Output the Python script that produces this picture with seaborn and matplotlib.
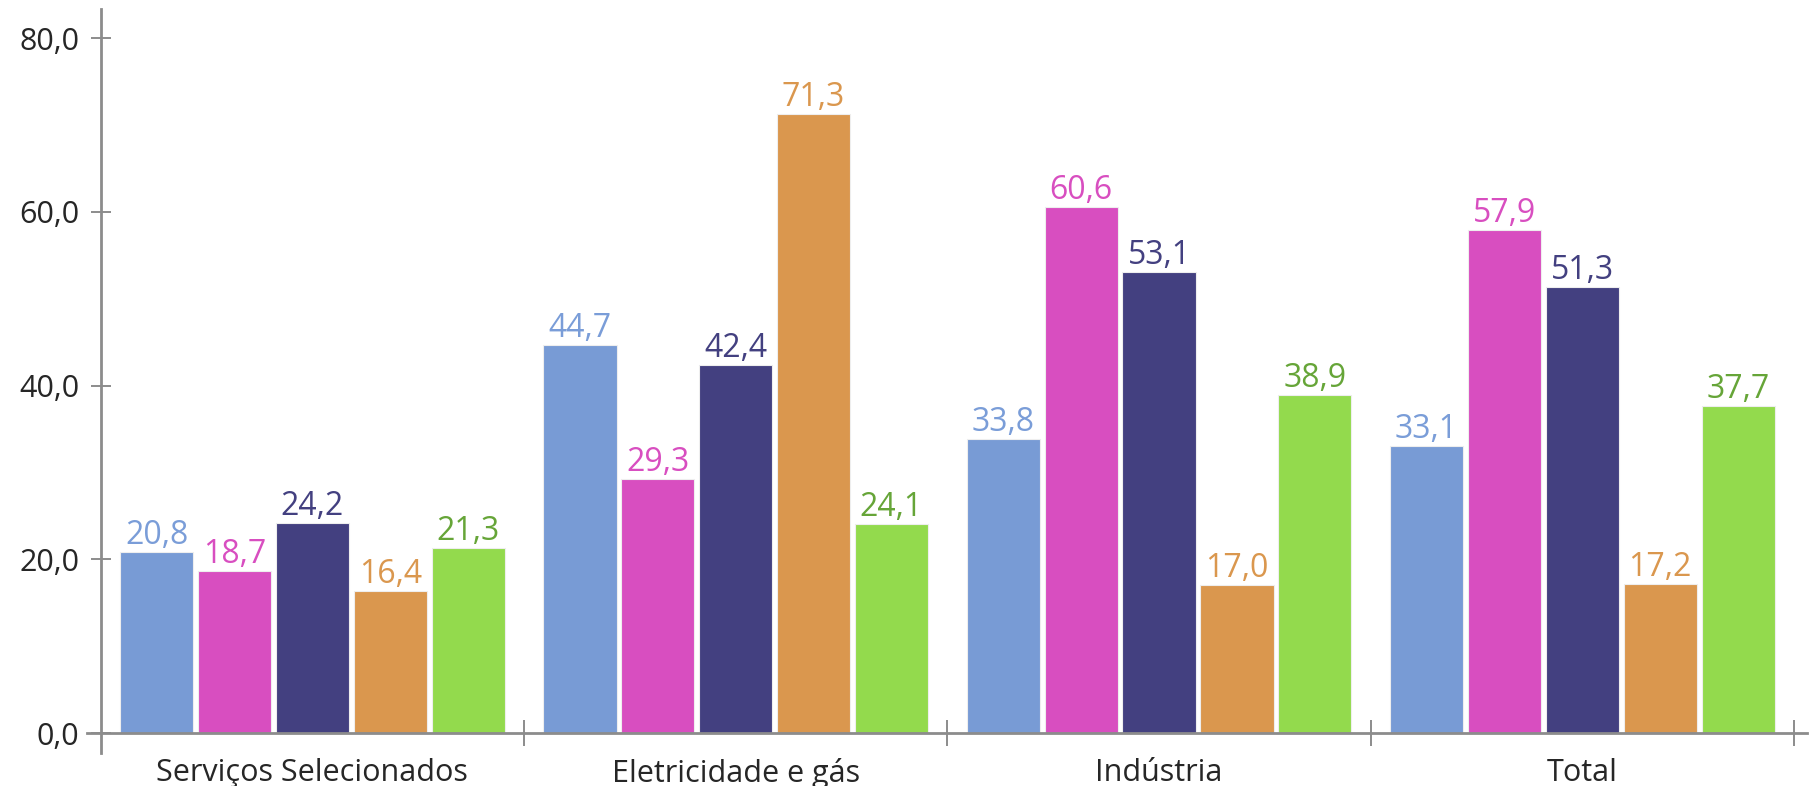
import numpy as np
import pandas as pd
import matplotlib
matplotlib.use("Agg")
import matplotlib.pyplot as plt
import seaborn as sns

# categories and series
categorias = ["Serviços Selecionados", "Eletricidade e gás", "Indústria", "Total"]
series = ["S1", "S2", "S3", "S4", "S5"]

s1 = [20.8, 44.7, 33.8, 33.1]
s2 = [18.7, 29.3, 60.6, 57.9]
s3 = [24.2, 42.4, 53.1, 51.3]
s4 = [16.4, 71.3, 17.0, 17.2]
s5 = [21.3, 24.1, 38.9, 37.7]

cores_barras = ["#789BD5", "#D84EC0", "#434080", "#DA974E", "#93DA4D"]
cores_rotulos = ["#7A9DD8", "#D84EC0", "#434080", "#DA974E", "#66A538"]

yticks = [0, 20, 40, 60, 80]

valores = [s1, s2, s3, s4, s5]
df = pd.DataFrame({
    "categoria": np.tile(categorias, len(series)),
    "serie": np.repeat(series, len(categorias)),
    "valor": np.concatenate(valores),
})

sns.set_style("white")
plt.rcParams["font.family"] = ["Open Sans", "DejaVu Sans"]

fig = plt.figure(figsize=(18.14, 7.86), dpi=100)
ax = fig.add_axes([0.0478, 0.0353, 0.9482, 0.9527])

sns.barplot(data=df, x="categoria", y="valor", hue="serie", order=categorias,
            hue_order=series, palette=cores_barras, width=0.92, gap=0.06,
            edgecolor="#eeeeee", linewidth=0.8, saturation=1, legend=False, ax=ax)

# bar value labels
for cont, cor in zip(ax.containers, cores_rotulos):
    labels = [f"{v:.1f}".replace(".", ",") for v in cont.datavalues]
    ax.bar_label(cont, labels=labels, color=cor, fontsize=23, padding=0)

ax.set_xlim(-0.533, 3.530)
ax.set_ylim(-2.9, 83.3)

# axes styling
for s in ["top", "right"]:
    ax.spines[s].set_visible(False)
ax.spines["left"].set_position(("data", -0.5))
ax.spines["bottom"].set_position(("data", 0))
ax.spines["left"].set_bounds(-2.3, 83.3)
for s in ["left", "bottom"]:
    ax.spines[s].set_color("#8c8c8c")
    ax.spines[s].set_linewidth(2.0)

ax.set_yticks(yticks)
ax.set_yticklabels([f"{v:.1f}".replace(".", ",") for v in yticks])
ax.tick_params(axis="y", direction="inout", length=15, width=1.4, color="#8c8c8c",
               labelsize=22, pad=8, left=True)

# group separators as major ticks, category names as minor ticks
ax.set_xticks([0.5, 1.5, 2.5, 3.5])
ax.set_xticklabels([])
ax.set_xticks(range(len(categorias)), minor=True)
ax.set_xticklabels(categorias, minor=True)
ax.tick_params(axis="x", which="major", direction="inout", length=19, width=1.4,
               color="#8c8c8c", bottom=True)
ax.tick_params(axis="x", which="minor", length=0, labelsize=22, pad=18)

ax.set_xlabel("")
ax.set_ylabel("")

fig.savefig("out.png", dpi=100)
